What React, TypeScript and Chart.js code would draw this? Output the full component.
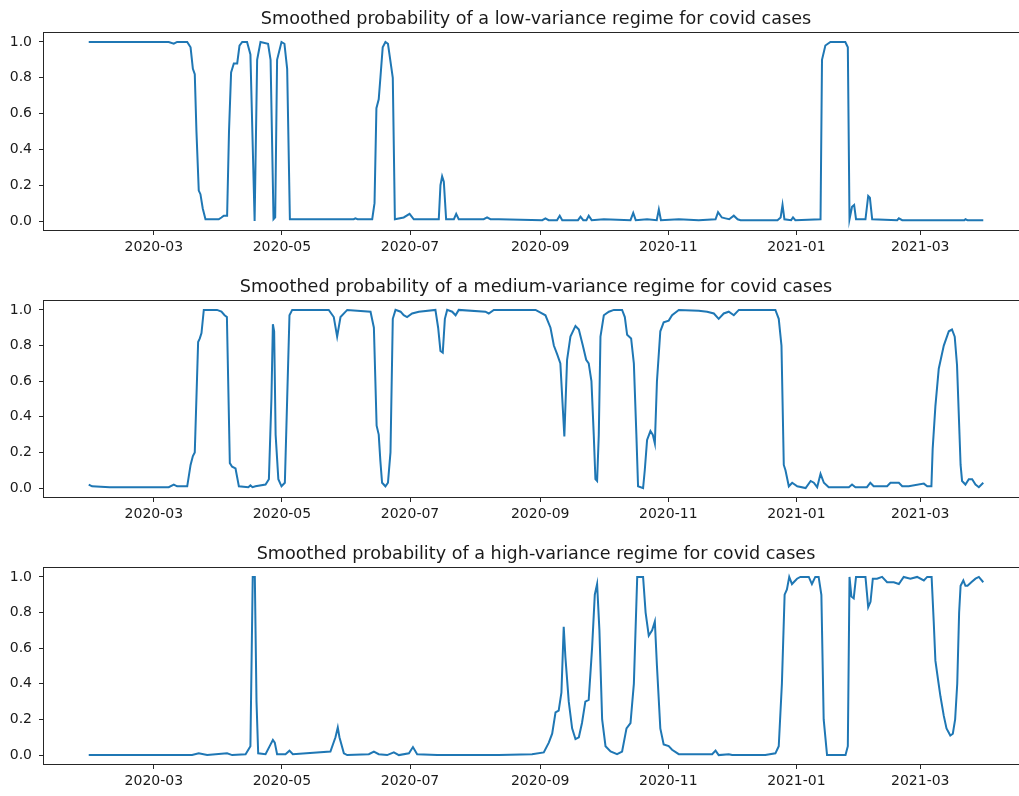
import React, { useEffect, useRef } from "react";
import { Chart, registerables } from "chart.js";

Chart.register(...registerables);

// day offsets are counted from this date
const START_DATE = "2020-01-30";
const X_TICK_LABELS = ["2020-03", "2020-05", "2020-07", "2020-09", "2020-11", "2021-01", "2021-03"];
const Y_TICK_VALUES = [0, 0.2, 0.4, 0.6, 0.8, 1.0];

const TITLES = [
  "Smoothed probability of a low-variance regime for covid cases",
  "Smoothed probability of a medium-variance regime for covid cases",
  "Smoothed probability of a high-variance regime for covid cases",
];

// [day offset, probability]
const lowPoints: number[][] = [
  [0, 1.0], [38.1, 1.0], [40.5, 0.99], [42.1, 1.0], [46.9, 1.0], [48.5, 0.97], [49.6, 0.85], [50.5, 0.82],
  [51.3, 0.5], [52.4, 0.17], [53.2, 0.15], [54.3, 0.07], [55.6, 0.01], [61.9, 0.01], [63.2, 0.02], [64.3, 0.03],
  [65.9, 0.03], [66.8, 0.5], [67.8, 0.83], [69.1, 0.88], [70.7, 0.88], [71.8, 0.98], [73.1, 1.0], [75.4, 1.0],
  [77.0, 0.93], [79.0, 0.0], [80.2, 0.9], [81.8, 1.0], [85.4, 0.99], [86.6, 0.9], [88.0, 0.01], [88.8, 0.02],
  [89.7, 0.9], [91.8, 1.0], [93.2, 0.99], [94.5, 0.85], [95.8, 0.01], [126.2, 0.01], [127, 0.015], [128, 0.01],
  [135.0, 0.01], [136.1, 0.1], [137.0, 0.63], [138.1, 0.68], [138.9, 0.8], [140.0, 0.97], [141.3, 1.0],
  [142.5, 0.99], [144.2, 0.85], [144.8, 0.8], [145.8, 0.01], [150.0, 0.02], [152.8, 0.04], [154.8, 0.01],
  [166.7, 0.01], [167.5, 0.2], [168.3, 0.25], [169.1, 0.22], [170.2, 0.01], [173.9, 0.01], [175.0, 0.04],
  [176.2, 0.01], [188.1, 0.01], [189.7, 0.02], [191.3, 0.01], [195.3, 0.01], [216, 0.005], [217.5, 0.015],
  [219, 0.005], [223, 0.005], [224.3, 0.03], [225.5, 0.005], [233, 0.005], [234.2, 0.025], [235.5, 0.005],
  [237, 0.005], [238.1, 0.03], [239.5, 0.005], [245.3, 0.01], [258, 0.005], [259.3, 0.045], [260.5, 0.005],
  [265.9, 0.01], [270.5, 0.005], [271.5, 0.065], [272.5, 0.005], [281, 0.01], [290.5, 0.005], [298.5, 0.01],
  [299.7, 0.05], [301.5, 0.02], [303.2, 0.015], [305, 0.01], [307.2, 0.03], [309, 0.01], [310.4, 0.005],
  [328, 0.005], [329.5, 0.02], [330.4, 0.09], [331.3, 0.01], [334.5, 0.005], [335.4, 0.02], [336.5, 0.005],
  [348.5, 0.01], [349.2, 0.9], [350.8, 0.98], [353.2, 1.0], [360.3, 1.0], [361.5, 0.97], [362.3, 0.01],
  [363.5, 0.08], [364.5, 0.09], [365.4, 0.01], [369.9, 0.01], [371.2, 0.14], [372, 0.13], [373.1, 0.01],
  [385, 0.005], [385.8, 0.015], [387.4, 0.005], [417, 0.005], [417.5, 0.01], [418.5, 0.005], [426, 0.005],
];

const mediumPoints: number[][] = [
  [0, 0.02], [1.6, 0.01], [10, 0.005], [38.1, 0.005], [40.5, 0.02], [42.1, 0.01], [46.9, 0.01], [48.5, 0.13],
  [49.6, 0.18], [50.5, 0.2], [52.1, 0.82], [52.9, 0.84], [53.7, 0.87], [54.8, 1.0], [61.1, 1.0], [63.2, 0.99],
  [64.7, 0.97], [65.8, 0.96], [67.2, 0.14], [68.3, 0.12], [69.9, 0.11], [71.5, 0.01], [76, 0.005], [77, 0.015],
  [78, 0.005], [79.4, 0.01], [84.2, 0.02], [85.8, 0.05], [87.0, 0.5], [87.7, 0.92], [88.3, 0.88], [89.0, 0.3],
  [90.3, 0.05], [91.8, 0.01], [93.4, 0.03], [94.5, 0.5], [95.6, 0.97], [96.9, 1.0], [114.3, 1.0], [116.7, 0.96],
  [118.3, 0.85], [119.9, 0.96], [123.1, 1.0], [134.2, 0.99], [135.8, 0.9], [137.1, 0.35], [138.1, 0.3],
  [138.9, 0.15], [139.7, 0.03], [141.3, 0.01], [142.5, 0.03], [143.7, 0.2], [144.8, 0.95], [146.1, 1.0],
  [148.5, 0.99], [150, 0.97], [151.6, 0.96], [154, 0.98], [157.2, 0.99], [165.1, 1.0], [166.4, 0.9],
  [167.5, 0.77], [168.6, 0.76], [169.6, 0.95], [170.7, 1.0], [173.1, 0.99], [174.7, 0.97], [176.2, 1.0],
  [188.9, 0.99], [190.5, 0.98], [192.9, 1.0], [212.8, 1.0], [217.5, 0.97], [219.9, 0.9], [221.5, 0.8],
  [223.1, 0.75], [224.6, 0.7], [226.5, 0.29], [227.8, 0.72], [229.4, 0.85], [231.8, 0.91], [233.4, 0.89],
  [235.3, 0.8], [236.9, 0.72], [238.1, 0.7], [239.4, 0.6], [240.5, 0.3], [241.3, 0.05], [242.1, 0.04],
  [242.9, 0.3], [243.7, 0.85], [245.3, 0.97], [247.7, 0.99], [250.1, 1.0], [254, 1.0], [255.3, 0.96],
  [256.4, 0.86], [258.3, 0.84], [259.6, 0.7], [260.8, 0.3], [261.6, 0.01], [264, 0.0], [264.8, 0.1],
  [265.9, 0.27], [267.5, 0.32], [268.6, 0.3], [269.6, 0.25], [270.6, 0.6], [272.2, 0.88], [273.8, 0.93],
  [276.2, 0.94], [277.8, 0.97], [281, 1.0], [290.5, 0.995], [294.5, 0.99], [297.7, 0.98], [300, 0.95],
  [302.4, 0.98], [304.8, 0.99], [307.2, 0.97], [309.6, 1.0], [327, 1.0], [328.6, 0.95], [329.9, 0.8],
  [331, 0.13], [331.8, 0.1], [333.4, 0.01], [335, 0.03], [337.4, 0.01], [341.4, 0.0], [343.8, 0.04],
  [345.3, 0.03], [346.9, 0.005], [348.5, 0.08], [350.1, 0.03], [352.4, 0.005], [362, 0.005], [363.5, 0.02],
  [365.1, 0.005], [370.6, 0.005], [372.2, 0.03], [373.8, 0.01], [380.2, 0.01], [381.8, 0.03], [385.8, 0.03],
  [387.4, 0.01], [390.5, 0.01], [397.7, 0.025], [399.3, 0.01], [401.3, 0.01], [401.9, 0.22], [403.2, 0.46],
  [404.8, 0.67], [407.2, 0.8], [409.6, 0.88], [411.1, 0.89], [412.4, 0.85], [413.5, 0.69], [415.2, 0.13],
  [415.9, 0.04], [417.5, 0.02], [419.1, 0.05], [420.7, 0.05], [422.3, 0.02], [423.9, 0.005], [426, 0.03],
];

const highPoints: number[][] = [
  [0, 0.0], [49.2, 0.0], [52.4, 0.01], [56.4, 0.0], [65.9, 0.01], [68.3, 0.0], [74.7, 0.005], [77, 0.05],
  [78.1, 1.0], [79.1, 1.0], [79.9, 0.3], [80.7, 0.01], [84.2, 0.005], [86.6, 0.06], [87.7, 0.085], [88.6, 0.07],
  [89.7, 0.005], [93.7, 0.005], [95.6, 0.025], [97.2, 0.005], [115.1, 0.02], [117.5, 0.1], [118.6, 0.155],
  [119.4, 0.1], [121.5, 0.01], [123.1, 0.0], [133.4, 0.005], [135.8, 0.02], [138.1, 0.005], [142.1, 0.0],
  [145.3, 0.015], [147.7, 0.0], [152.5, 0.01], [154.4, 0.045], [156.4, 0.005], [166, 0.0], [195.3, 0.0],
  [211.1, 0.005], [216.7, 0.015], [219.1, 0.07], [220.7, 0.12], [222.3, 0.24], [223.8, 0.25], [225.1, 0.35],
  [226.2, 0.72], [227, 0.55], [228.6, 0.3], [230.2, 0.15], [231.8, 0.09], [233.4, 0.1], [234.9, 0.18],
  [236.5, 0.3], [238.1, 0.31], [239.7, 0.6], [241, 0.9], [242.1, 0.96], [243.2, 0.7], [244.5, 0.2],
  [246.1, 0.05], [248.5, 0.02], [251.6, 0.005], [254, 0.02], [256.1, 0.15], [258, 0.18], [259.6, 0.4],
  [261.2, 1.0], [264, 1.0], [265.2, 0.8], [266.7, 0.67], [268.3, 0.7], [269.6, 0.75], [270.6, 0.5],
  [272.2, 0.15], [273.8, 0.06], [276.2, 0.05], [277.8, 0.03], [281, 0.005], [296.9, 0.005], [298.5, 0.025],
  [300, 0.0], [304.8, 0.005], [306.4, 0.0], [322.2, 0.0], [327, 0.01], [328.6, 0.05], [330.1, 0.4],
  [331.4, 0.9], [332.5, 0.93], [333.6, 1.0], [334.9, 0.96], [337.3, 0.99], [338.9, 1.0], [342.9, 1.0],
  [344.4, 0.96], [346, 1.0], [347.6, 1.0], [348.9, 0.9], [350, 0.2], [351.6, 0.0], [360.4, 0.0], [361.5, 0.05],
  [362.3, 1.0], [363.2, 0.89], [364.3, 0.88], [365.4, 1.0], [369.9, 1.0], [371.2, 0.83], [372.3, 0.86],
  [373.4, 0.99], [375.4, 0.99], [377.8, 1.0], [380.2, 0.97], [383.4, 0.97], [385.8, 0.96], [388.1, 1.0],
  [391.3, 0.99], [394.5, 1.0], [397.7, 0.98], [399.3, 1.0], [401.4, 1.0], [402.4, 0.75], [403.2, 0.53],
  [404.5, 0.42], [405.6, 0.33], [407.2, 0.22], [408.5, 0.15], [410.3, 0.11], [411.5, 0.12], [412.6, 0.2],
  [413.6, 0.4], [414.5, 0.8], [415.2, 0.95], [416.5, 0.98], [417.5, 0.95], [418.5, 0.95], [420.3, 0.97],
  [422.3, 0.99], [423.9, 1.0], [426, 0.97],
];

const LINE_COLOR = "#1f77b4";
const INK = "#262626";
const FONT = "'DejaVu Sans', sans-serif";

function dayOf(iso: string): number {
  const [y, m, d] = iso.split("-").map(Number);
  const [sy, sm, sd] = START_DATE.split("-").map(Number);
  return (Date.UTC(y, m - 1, d) - Date.UTC(sy, sm - 1, sd)) / 86400000;
}

const framePlugin = {
  id: "frame",
  afterDraw(chart: any) {
    const { ctx, chartArea } = chart;
    const l = Math.round(chartArea.left) - 0.5;
    const t = Math.round(chartArea.top) - 0.5;
    const r = Math.round(chartArea.right) + 0.5;
    const b = Math.round(chartArea.bottom) + 0.5;
    ctx.save();
    ctx.strokeStyle = INK;
    ctx.lineWidth = 1;
    ctx.strokeRect(l, t, r - l, b - t);
    ctx.restore();
  },
};

const CANVAS_W = 1040;
const AREA_LEFT = 44;
const AREA_RIGHT = 1028;
const TITLE_BLOCK = 33;
const XAXIS_BLOCK = 30;

function Panel({ title, points, areaTop, areaHeight }: { title: string; points: number[][]; areaTop: number; areaHeight: number }) {
  const ref = useRef<HTMLCanvasElement>(null);
  const height = TITLE_BLOCK + areaHeight + XAXIS_BLOCK;
  useEffect(() => {
    const first = points[0][0];
    const last = points[points.length - 1][0];
    const span = last - first;
    const chart = new Chart(ref.current as HTMLCanvasElement, {
      type: "line",
      data: {
        datasets: [
          {
            data: points.map(([x, y]) => ({ x, y })),
            borderColor: LINE_COLOR,
            borderWidth: 2,
            pointRadius: 0,
            tension: 0,
            fill: false,
          },
        ],
      },
      options: {
        animation: false,
        responsive: false,
        devicePixelRatio: 1,
        events: [],
        layout: { padding: { left: 0, right: CANVAS_W - AREA_RIGHT, top: 0, bottom: 0 } },
        plugins: {
          legend: { display: false },
          tooltip: { enabled: false },
          title: {
            display: true,
            text: title,
            fullSize: false,
            color: "#1a1a1a",
            font: { family: FONT, size: 17.6, weight: "normal", lineHeight: 1.2 },
            padding: { top: 9.2, bottom: 2.68 },
          },
        },
        scales: {
          x: {
            type: "linear",
            min: first - 0.05 * span,
            max: last + 0.05 * span,
            afterFit: (s: any) => {
              s.height = XAXIS_BLOCK;
            },
            afterBuildTicks: (s: any) => {
              s.ticks = X_TICK_LABELS.map((l) => ({ value: dayOf(l + "-01") }));
            },
            ticks: {
              autoSkip: false,
              maxRotation: 0,
              minRotation: 0,
              padding: 4,
              color: "#1a1a1a",
              font: { family: FONT, size: 14 },
              callback: (_v: any, i: number) => X_TICK_LABELS[i],
            },
            grid: { drawOnChartArea: false, drawTicks: true, tickLength: 5, color: INK },
            border: { display: false },
          },
          y: {
            type: "linear",
            min: -0.05,
            max: 1.05,
            afterFit: (s: any) => {
              s.width = AREA_LEFT;
            },
            afterBuildTicks: (s: any) => {
              s.ticks = Y_TICK_VALUES.map((v) => ({ value: v }));
            },
            ticks: {
              padding: 7,
              color: "#1a1a1a",
              font: { family: FONT, size: 14 },
              callback: (v: any) => Number(v).toFixed(1),
            },
            grid: { drawOnChartArea: false, drawTicks: true, tickLength: 5, color: INK },
            border: { display: false },
          },
        },
      },
      plugins: [framePlugin],
    } as any);
    return () => chart.destroy();
  }, [title, points, areaHeight]);
  return (
    <canvas
      ref={ref}
      width={CANVAS_W}
      height={height}
      style={{ position: "absolute", left: 0, top: areaTop - TITLE_BLOCK, width: CANVAS_W, height, display: "block" }}
    />
  );
}

export default function App() {
  return (
    <div style={{ position: "absolute", left: 0, top: 0, width: 1019, height: 796, overflow: "hidden", background: "#ffffff" }}>
      <Panel title={TITLES[0]} points={lowPoints} areaTop={33} areaHeight={197} />
      <Panel title={TITLES[1]} points={mediumPoints} areaTop={301} areaHeight={196} />
      <Panel title={TITLES[2]} points={highPoints} areaTop={568} areaHeight={196} />
    </div>
  );
}
